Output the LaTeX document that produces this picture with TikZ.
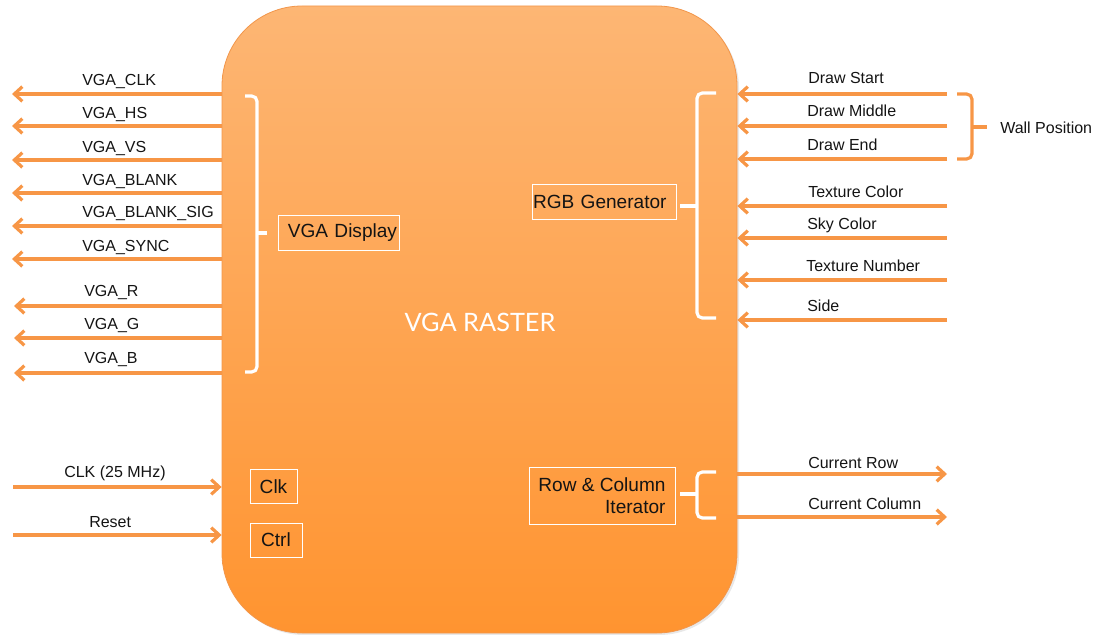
\documentclass[tikz,border=0pt]{standalone}
\usepackage{fontspec}
\setmainfont{Liberation Sans}
\newfontfamily\rasterfont{Lato}
\usetikzlibrary{arrows.meta,shadows}
\definecolor{arrorange}{RGB}{247,150,70}
\definecolor{boxtop}{RGB}{253,182,116}
\definecolor{boxbot}{RGB}{255,148,48}
\definecolor{boxline}{RGB}{242,150,75}
\definecolor{txt}{RGB}{20,20,20}
\newcommand\pxu{0.75pt}
\begin{document}
\begin{tikzpicture}[x=0.75pt,y=-0.75pt,
  arr/.style={draw=arrorange, line width=2.4pt, -{Straight Barb[length=6pt,width=11pt]}},
  lbl/.style={font=\fontsize{12}{14}\selectfont, text=txt, anchor=base west, inner sep=0pt},
  ibox/.style={draw=white, line width=0.6pt, inner sep=0pt, text=txt, font=\fontsize{14.3}{16.5}\selectfont},
  wbrace/.style={draw=white, line width=2.4pt, rounded corners=4pt},
  obrace/.style={draw=arrorange, line width=2.4pt, rounded corners=4pt}]
\useasboundingbox (0,0) rectangle (1096,635);

% main block
\node[rectangle, rounded corners=60pt, minimum width=515*\pxu, minimum height=627*\pxu,
      top color=boxtop, bottom color=boxbot, draw=boxline, line width=0.6pt,
      drop shadow={opacity=0.18, shadow xshift=1.5pt, shadow yshift=-1.5pt}] (raster) at (479.5,319.5) {};
\node[font=\rasterfont\fontsize{19}{22}\selectfont, text=white] (rastertxt) at (480,322) {VGA RASTER};

% inner boxes
\node[ibox, minimum width=121*\pxu, minimum height=35*\pxu, text width=117*\pxu, inner xsep=2*\pxu, align=right] (vgadisp) at (338.5,232.5) {VGA Display};
\node[ibox, minimum width=144*\pxu, minimum height=35*\pxu, text width=142*\pxu, inner xsep=1*\pxu, align=left] (rgb) at (604,201.5) {RGB Generator};
\node[ibox, minimum width=146*\pxu, minimum height=57*\pxu, align=right] (rowcol) at (602,495.5) {Row \& Column\\Iterator};
\node[ibox, minimum width=47*\pxu, minimum height=34*\pxu] (clkbox) at (273.5,486.5) {Clk};
\node[ibox, minimum width=52*\pxu, minimum height=34*\pxu] (ctrlbox) at (276,540) {Ctrl};

% left outputs
\coordinate (o1) at (12,94);
\coordinate (o2) at (12,126);
\coordinate (o3) at (12,160);
\coordinate (o4) at (12,193);
\coordinate (o5) at (12,226);
\coordinate (o6) at (12,259);
\coordinate (o7) at (14,306);
\coordinate (o8) at (14,338);
\coordinate (o9) at (14,373);
\foreach \i in {1,...,9} {\draw[arr] (raster.west |- o\i) -- (o\i);}
\node[lbl] (l1) at (82,85) {VGA\_CLK};
\node[lbl] (l2) at (82,118) {VGA\_HS};
\node[lbl] (l3) at (82,152) {VGA\_VS};
\node[lbl] (l4) at (82,185) {VGA\_BLANK};
\node[lbl] (l5) at (82,217) {VGA\_BLANK\_SIG};
\node[lbl] (l6) at (82,251) {VGA\_SYNC};
\node[lbl] (l7) at (84,296) {VGA\_R};
\node[lbl] (l8) at (84,329) {VGA\_G};
\node[lbl] (l9) at (84,363) {VGA\_B};

% left brace (white)
\draw[wbrace] (245,96) -- (257,96) -- (257,372) -- (245,372);
\draw[wbrace] (257,233) -- (267,233);

% right inputs
\coordinate (i1) at (947,94);
\coordinate (i2) at (947,126);
\coordinate (i3) at (947,159);
\coordinate (i4) at (947,206);
\coordinate (i5) at (947,238);
\coordinate (i6) at (947,280);
\coordinate (i7) at (947,320);
\foreach \i in {1,...,7} {\draw[arr] (i\i) -- (raster.east |- i\i);}
\node[lbl] (r1) at (808,84) {Draw Start};
\node[lbl] (r2) at (807,117) {Draw Middle};
\node[lbl] (r3) at (807,151) {Draw End};
\node[lbl] (r4) at (808,197) {Texture Color};
\node[lbl] (r5) at (807,229) {Sky Color};
\node[lbl] (r6) at (806,271) {Texture Number};
\node[lbl] (r7) at (807,311) {Side};

% RGB brace (white)
\draw[wbrace] (716,93) -- (697,93) -- (697,318) -- (716,318);
\draw[wbrace] (697,206) -- (680,206);

% wall position brace (orange)
\draw[obrace] (957,94) -- (972,94) -- (972,159) -- (957,159);
\draw[obrace] (972,127) -- (987,127);
\node[lbl] (wallpos) at (1000,133) {Wall Position};

% clock / reset inputs
\coordinate (c1) at (13,487);
\coordinate (c2) at (13,535);
\draw[arr] (c1) -- (raster.west |- c1);
\draw[arr] (c2) -- (raster.west |- c2);
\node[lbl] (clklbl) at (64,477) {CLK (25 MHz)};
\node[lbl] (rstlbl) at (89,527) {Reset};

% row/col outputs
\coordinate (q1) at (947,474);
\coordinate (q2) at (947,517);
\draw[arr] (raster.east |- q1) -- (q1);
\draw[arr] (raster.east |- q2) -- (q2);
\node[lbl] (currow) at (808,468) {Current Row};
\node[lbl] (curcol) at (808,509) {Current Column};

% row/col brace (white)
\draw[wbrace] (716,472) -- (697,472) -- (697,518) -- (716,518);
\draw[wbrace] (697,494) -- (680,494);
\end{tikzpicture}
\end{document}
